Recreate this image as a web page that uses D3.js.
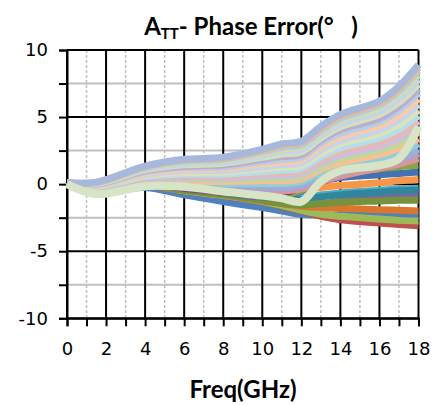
<!DOCTYPE html>
<html>
<head>
<meta charset="utf-8">
<script src="https://cdn.jsdelivr.net/npm/d3@7"></script>
<style>
  body { margin: 0; background: #fff; }
</style>
</head>
<body>
<svg id="chart" width="433" height="405"></svg>
<script>
// frequency points (GHz) the curves were read at
const freq = [0, 1.5, 4, 6, 8, 10, 11, 12, 13, 14, 16, 17, 18];

// phase error (deg) of the darker states, draw order
const darkStates = [
  [0.05, -0.5, -0.25, -0.8, -1.3, -1.75, -2.0, -2.25, -2.3, -2.3, -2.3, -2.3, -2.3],
  [0.05, -0.45, -0.1, -0.5, -0.85, -1.3, -1.65, -2.0, -2.4, -2.65, -2.9, -3.0, -3.1],
  [0.05, -0.45, -0.1, -0.5, -0.85, -1.3, -1.6, -1.95, -2.25, -2.4, -2.6, -2.7, -2.75],
  [0.05, -0.4, -0.05, -0.4, -0.75, -1.15, -1.35, -1.55, -1.45, -1.3, -1.0, -0.85, -0.7],
  [0.05, -0.4, -0.05, -0.4, -0.7, -1.05, -1.15, -1.0, -0.8, -0.65, -0.45, -0.35, -0.3],
  [0.05, -0.4, -0.05, -0.35, -0.65, -0.95, -0.8, -0.4, -0.25, -0.1, 0.1, 0.25, 0.35],
  [0.05, -0.45, -0.1, -0.45, -0.8, -1.25, -1.45, -1.65, -1.75, -1.8, -1.9, -1.95, -2.0],
  [0.05, -0.4, -0.05, -0.4, -0.7, -1.05, -1.15, -1.15, -0.95, -0.8, -0.6, -0.5, -0.45],
  [0.05, -0.45, -0.1, -0.45, -0.8, -1.2, -1.45, -1.55, -1.45, -1.35, -1.25, -1.2, -1.2],
  [0.05, -0.35, 0.0, -0.3, -0.65, -0.95, -0.9, -0.5, 0.2, 0.5, 0.7, 0.8, 0.9],
  [0.05, -0.35, 0.0, -0.3, -0.6, -0.9, -0.85, -0.45, 0.3, 0.8, 1.15, 1.3, 1.4],
  [0.05, -0.35, 0.0, -0.3, -0.6, -0.85, -0.75, -0.2, 0.6, 1.1, 1.5, 1.7, 1.9],
  [0.05, -0.35, 0.0, -0.3, -0.6, -0.85, -0.7, -0.1, 0.75, 1.25, 1.65, 1.85, 2.15]
];

// phase error (deg) of the lighter states, draw order
const lightStates = [
  [0.05, -0.45, -0.1, -0.2, -0.3, -0.45, -0.5, -0.35, 0.2, 0.6, 1.2, 1.5, 1.9],
  [0.05, -0.42, -0.05, -0.1, -0.2, -0.3, -0.35, -0.2, 0.4, 0.85, 1.4, 1.75, 2.3],
  [0.06, -0.4, 0.05, 0.0, -0.05, -0.1, -0.15, 0.0, 0.6, 1.05, 1.65, 2.0, 2.6],
  [0.06, -0.35, 0.12, 0.12, 0.05, 0.05, 0.05, 0.2, 0.85, 1.35, 1.9, 2.35, 3.0],
  [0.06, -0.32, 0.22, 0.25, 0.2, 0.25, 0.25, 0.4, 1.1, 1.6, 2.2, 2.7, 3.4],
  [0.06, -0.28, 0.3, 0.38, 0.35, 0.42, 0.45, 0.6, 1.3, 1.9, 2.5, 3.05, 3.85],
  [0.07, -0.25, 0.4, 0.5, 0.48, 0.6, 0.65, 0.8, 1.55, 2.15, 2.8, 3.4, 4.3],
  [0.07, -0.2, 0.48, 0.62, 0.62, 0.8, 0.85, 1.0, 1.8, 2.45, 3.1, 3.75, 4.7],
  [0.07, -0.17, 0.57, 0.75, 0.75, 0.95, 1.05, 1.2, 2.05, 2.7, 3.45, 4.1, 5.1],
  [0.08, -0.14, 0.65, 0.87, 0.9, 1.15, 1.25, 1.4, 2.3, 3.0, 3.75, 4.45, 5.5],
  [0.08, -0.1, 0.74, 1.0, 1.03, 1.3, 1.45, 1.6, 2.55, 3.25, 4.05, 4.8, 5.95],
  [0.08, -0.07, 0.83, 1.1, 1.17, 1.5, 1.65, 1.8, 2.8, 3.55, 4.35, 5.15, 6.35],
  [0.09, -0.03, 0.92, 1.24, 1.3, 1.68, 1.85, 2.0, 3.05, 3.8, 4.65, 5.5, 6.8],
  [0.09, 0.0, 1.0, 1.34, 1.43, 1.85, 2.05, 2.2, 3.25, 4.05, 4.9, 5.8, 7.1],
  [0.09, 0.03, 1.06, 1.44, 1.55, 2.0, 2.25, 2.4, 3.45, 4.28, 5.2, 6.1, 7.45],
  [0.09, 0.06, 1.13, 1.54, 1.66, 2.15, 2.45, 2.6, 3.65, 4.5, 5.45, 6.4, 7.8],
  [0.1, 0.09, 1.2, 1.65, 1.77, 2.3, 2.6, 2.8, 3.85, 4.75, 5.7, 6.7, 8.15],
  [0.1, 0.11, 1.26, 1.73, 1.86, 2.42, 2.75, 2.95, 4.0, 4.9, 5.9, 6.95, 8.45],
  [0.1, 0.13, 1.31, 1.79, 1.93, 2.5, 2.88, 3.08, 4.15, 5.05, 6.05, 7.12, 8.68],
  [0.1, 0.15, 1.35, 1.85, 2.0, 2.6, 3.0, 3.2, 4.3, 5.2, 6.2, 7.3, 8.9]
];

// last state, drawn on top
const lastState = [0.0, -0.75, -0.15, -0.2, -0.55, -0.85, -1.05, -1.3, 0.2, 1.0, 1.4, 1.9, 4.3];

const xTicks = [0, 2, 4, 6, 8, 10, 12, 14, 16, 18];
const yTicks = [-10, -5, 0, 5, 10];

// colours (Excel-like series palette)
const darkColors = ["#4F81BD", "#C0504D", "#9BBB59", "#8064A2", "#4BACC6", "#F79646",
                    "#D9772E", "#31859C", "#76923C", "#4472B0", "#86A548", "#A5403E", "#664F86"];
const lightColors = ["#D99694", "#B3A2C7", "#95B3D7", "#93CDDD", "#FAC090", "#C3D69B",
                     "#CCC1DA", "#E6B9B8", "#B7DEE8", "#D7E4BD", "#C6D3EA", "#FBCBA8",
                     "#B9CDE5", "#B9AFD0", "#D3E0BA", "#C8D2E8", "#CFDDB4", "#A8D1DE",
                     "#F6B48F", "#A6B9DC"];
const lastColor = "#D8E4C6";

const svg = d3.select("#chart");

const x = d3.scaleLinear().domain([0, 18]).range([67, 418.5]);
const y = d3.scaleLinear().domain([-10, 10]).range([318.3, 50]);

// grid
const grid = svg.append("g");
grid.selectAll("line.hminor")
  .data(d3.range(-7.5, 10, 5))
  .join("line")
    .attr("x1", x(0)).attr("x2", x(18))
    .attr("y1", d => y(d)).attr("y2", d => y(d))
    .attr("stroke", "#BFBFBF").attr("stroke-width", 2);
grid.selectAll("line.vminor")
  .data(d3.range(1, 18, 2))
  .join("line")
    .attr("x1", d => x(d)).attr("x2", d => x(d))
    .attr("y1", y(10)).attr("y2", y(-10))
    .attr("stroke", "#BFBFBF").attr("stroke-width", 1.5)
    .attr("stroke-dasharray", "3,2");
grid.selectAll("line.hmajor")
  .data(yTicks)
  .join("line")
    .attr("x1", x(0)).attr("x2", x(18))
    .attr("y1", d => y(d)).attr("y2", d => y(d))
    .attr("stroke", "#000").attr("stroke-width", 2);
grid.selectAll("line.vmajor")
  .data(xTicks)
  .join("line")
    .attr("x1", d => x(d)).attr("x2", d => x(d))
    .attr("y1", y(10)).attr("y2", y(-10))
    .attr("stroke", "#000").attr("stroke-width", 2);

// axes
const yAxis = d3.axisLeft(y)
  .tickValues(d3.range(-10, 10.1, 2.5))
  .tickSize(8).tickPadding(11)
  .tickFormat(d => d % 5 === 0 ? d : "");
const xAxis = d3.axisBottom(x)
  .tickValues(d3.range(0, 18.1, 1))
  .tickSize(8).tickPadding(16)
  .tickFormat(d => d % 2 === 0 ? d : "");

const gy = svg.append("g").attr("transform", `translate(${x(0)},0)`).call(yAxis);
const gx = svg.append("g").attr("transform", `translate(0,${y(-10)})`).call(xAxis);
[gx, gy].forEach(g => {
  g.select(".domain").attr("stroke", "#000").attr("stroke-width", 2);
  g.selectAll(".tick line").attr("stroke", "#000").attr("stroke-width", 2);
  g.selectAll("text")
    .attr("fill", "#000")
    .style("font-family", "'DejaVu Sans', sans-serif")
    .style("font-size", "18px");
});

// curves
const line = d3.line()
  .x((d, i) => x(freq[i]))
  .y(d => y(d))
  .curve(d3.curveCatmullRom.alpha(0.5));

const curves = svg.append("g")
  .attr("fill", "none")
  .attr("stroke-width", 7)
  .attr("stroke-linejoin", "round");

curves.selectAll("path.dark")
  .data(darkStates)
  .join("path")
    .attr("d", line)
    .attr("stroke", (d, i) => darkColors[i]);

curves.selectAll("path.light")
  .data(lightStates)
  .join("path")
    .attr("d", line)
    .attr("stroke", (d, i) => lightColors[i]);

curves.append("path")
  .attr("d", line(lastState))
  .attr("stroke", lastColor)
  .attr("stroke-width", 8);

// titles
const title = svg.append("text")
  .attr("x", 251).attr("y", 35)
  .attr("text-anchor", "middle")
  .style("font-family", "Lato, sans-serif")
  .style("font-weight", "bold")
  .style("font-size", "24px")
  .style("white-space", "pre");
title.append("tspan").text("A");
title.append("tspan").attr("dy", 4).style("font-size", "15px").text("TT");
title.append("tspan").attr("dy", -4).text("- Phase Error(°\u00A0\u00A0\u00A0)");

svg.append("text")
  .attr("x", 243).attr("y", 398)
  .attr("text-anchor", "middle")
  .style("font-family", "Lato, sans-serif")
  .style("font-weight", "bold")
  .style("font-size", "24px")
  .text("Freq(GHz)");
</script>
</body>
</html>
